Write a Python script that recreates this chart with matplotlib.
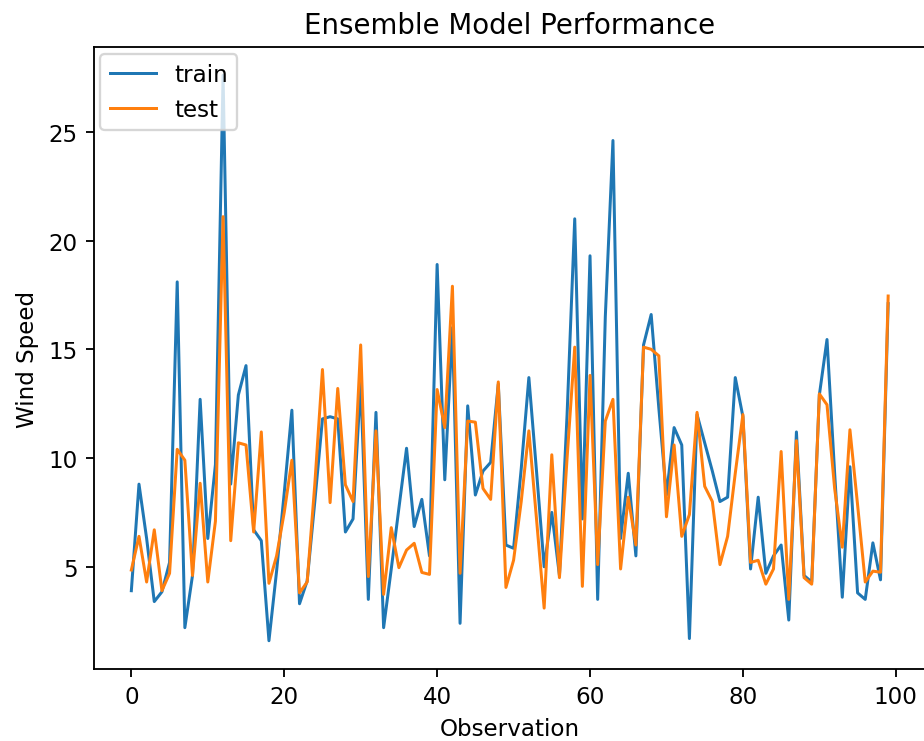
import matplotlib
matplotlib.use("Agg")
import matplotlib.pyplot as plt
import numpy as np

# wind speed per observation
train = [
    3.9, 8.8, 6.3, 3.4, 3.85, 5.2, 18.1, 2.2, 4.6, 12.7,
    6.3, 9.7, 27.6, 8.8, 12.9, 14.25, 6.7, 6.2, 1.6, 4.8,
    8.4, 12.2, 3.3, 4.35, 8.0, 11.8, 11.9, 11.8, 6.6, 7.2,
    13.5, 3.5, 12.1, 2.2, 4.9, 7.7, 10.45, 6.85, 8.1, 5.5,
    18.9, 9.0, 16.0, 2.4, 12.4, 8.3, 9.4, 9.8, 13.4, 6.0,
    5.85, 9.5, 13.7, 9.4, 5.0, 7.5, 4.6, 12.0, 21.0, 7.2,
    19.3, 3.5, 16.5, 24.6, 6.3, 9.3, 5.5, 15.2, 16.6, 12.3,
    8.3, 11.4, 10.6, 1.7, 12.0, 10.7, 9.4, 8.0, 8.2, 13.7,
    11.9, 4.9, 8.2, 4.7, 5.5, 6.0, 2.55, 11.2, 4.6, 4.3,
    12.9, 15.45, 9.3, 3.6, 9.6, 3.8, 3.5, 6.1, 4.4, 17.1,
]
test = [
    4.85, 6.4, 4.3, 6.7, 3.9, 4.7, 10.4, 9.9, 4.6, 8.84,
    4.3, 7.1, 21.1, 6.2, 10.7, 10.6, 6.6, 11.2, 4.24, 5.5,
    7.5, 9.9, 3.8, 4.3, 8.8, 14.07, 7.95, 13.2, 8.77, 8.0,
    15.2, 4.55, 11.25, 3.73, 6.8, 4.96, 5.77, 6.08, 4.74, 4.65,
    13.15, 11.4, 17.9, 4.7, 11.7, 11.65, 8.6, 8.1, 13.5, 4.05,
    5.3, 8.0, 11.25, 7.2, 3.1, 10.15, 4.5, 10.0, 15.1, 4.1,
    13.8, 5.1, 11.7, 12.7, 4.9, 8.2, 6.0, 15.1, 15.0, 14.7,
    7.3, 10.6, 6.4, 7.4, 12.1, 8.7, 8.0, 5.1, 6.4, 9.3,
    12.0, 5.2, 5.3, 4.2, 4.9, 10.3, 3.5, 10.8, 4.5, 4.2,
    12.95, 12.45, 8.6, 5.9, 11.3, 7.85, 4.3, 4.8, 4.75, 17.45,
]

DPI = 166
fig = plt.figure(figsize=(924 / DPI, 742 / DPI), dpi=DPI)
# the reference is cropped on the right, so the axes run past the edge
ax = fig.add_axes([93.5 / 924, 72 / 742, 832.5 / 924, 622 / 742])

ax.plot(np.arange(len(train)), train, lw=1.3, label="train")
ax.plot(np.arange(len(test)), test, lw=1.3, label="test")
ax.set_title("Ensemble Model Performance")
ax.set_xlabel("Observation")
ax.set_ylabel("Wind Speed")
ax.legend(loc="upper left", borderaxespad=0.3)

fig.savefig("out.png", dpi=DPI)
